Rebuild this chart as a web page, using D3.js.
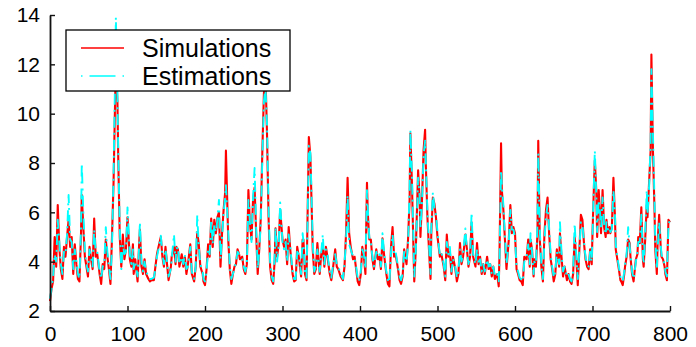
<!DOCTYPE html>
<html>
<head>
<meta charset="utf-8">
<script src="https://cdn.jsdelivr.net/npm/d3@7"></script>
<style>
  body { margin: 0; background: #fff; }
  text { font-family: "Liberation Sans", Arial, sans-serif; fill: #000; }
</style>
</head>
<body>
<div id="chart"></div>
<script>
// sample index (x) and the two series
var steps = [0,2,4,6,8,10,12,14,16,18,20,22,24,26,28,30,32,34,36,38,40,41,43,45,47,49,51,53,55,57,59,61,64,66,68,70,72,74,76,78,80,82,84,85,87,88,90,92,94,96,98,100,103,105,107,108,110,113,115,116,118,120,122,124,127,129,131,134,136,138,140,143,145,147,149,151,153,156,157,160,162,163,165,167,170,172,174,176,178,181,183,186,188,190,192,194,197,198,200,202,204,206,208,210,212,214,216,218,220,222,224,226,227,230,232,234,236,238,240,242,244,245,248,250,252,254,256,258,260,262,264,266,268,270,272,274,276,278,280,282,284,286,288,290,291,293,295,297,300,302,304,306,308,310,313,315,317,319,321,324,326,327,329,331,332,334,336,337,339,341,343,345,348,350,352,354,356,358,361,363,365,368,370,372,375,378,380,382,384,386,388,391,393,395,397,399,401,403,405,407,409,410,412,414,416,418,421,423,425,427,429,431,434,436,438,440,442,444,446,449,451,453,455,457,460,462,464,465,467,469,470,472,475,477,478,480,482,484,485,487,489,491,492,494,496,498,500,501,503,505,508,510,512,514,516,518,520,523,525,527,529,531,533,536,538,540,542,544,546,549,551,553,555,557,559,561,564,566,568,570,572,574,577,579,580,582,583,585,587,589,592,594,596,598,600,602,604,606,608,610,612,615,617,619,620,622,624,625,627,629,630,632,634,636,638,640,642,644,646,648,650,652,654,657,658,660,662,664,667,669,671,673,675,677,679,681,684,685,687,689,691,693,695,697,699,700,702,703,705,706,708,710,711,713,715,717,718,720,722,723,725,727,729,730,732,734,736,737,739,741,742,744,746,748,749,751,753,754,756,758,759,761,763,765,766,768,770,771,773,775,776,778,780,781,783,784,786,788,789,791,793,794,796,798,800];

var simulations = [2.4,2.9,3.2,5.0,3.8,6.3,4.6,3.7,3.3,4.6,4.2,5.0,5.7,4.6,5.0,3.5,4.7,3.9,3.3,3.2,5.1,6.7,5.4,4.2,3.8,3.4,4.6,4.1,3.7,5.75,4.2,4.3,3.5,3.1,3.9,3.7,4.9,4.2,3.7,3.1,5.0,7.2,10.5,11.9,10.5,8.3,5.0,3.8,5.1,4.1,4.5,5.8,4.1,3.8,4.7,3.5,4.1,3.2,4.7,5.3,3.8,3.5,4.1,3.5,3.3,3.2,3.25,3.25,3.8,4.3,4.6,5.0,4.2,3.8,4.6,3.9,3.25,3.8,4.2,4.6,3.9,4.6,4.5,3.8,4.3,3.8,4.2,3.5,3.9,4.7,3.5,3.2,3.8,5.2,4.7,3.8,3.5,3.2,3.05,3.7,4.7,4.2,5.75,4.6,5.7,5.15,5.8,6.0,3.8,5.15,6.1,6.8,8.5,4.9,3.7,3.1,3.5,3.8,3.9,4.5,4.3,4.1,4.2,3.7,3.5,3.9,6.9,5.55,4.9,6.5,7.0,5.15,3.5,4.5,5.8,8.5,10.8,11.6,9.2,5.8,3.8,3.25,3.1,4.1,5.35,4.2,4.7,6.1,4.9,4.6,4.9,3.9,5.4,4.5,3.5,3.2,3.25,4.6,4.2,3.4,4.9,4.9,3.5,3.25,5.15,9.05,8.25,7.0,4.5,3.5,3.7,4.75,3.5,4.3,4.6,3.8,4.6,4.2,3.5,3.25,3.7,4.5,3.8,3.7,3.4,3.25,3.8,5.15,7.4,5.15,4.6,4.1,4.2,3.7,3.2,3.05,3.5,4.6,4.2,3.5,7.2,6.0,4.9,4.9,4.1,3.7,4.5,4.1,4.2,3.7,4.95,4.3,3.5,3.1,3.0,4.6,5.4,4.2,4.3,3.7,3.25,3.1,3.4,4.5,3.9,4.9,6.5,9.2,7.2,4.5,3.2,4.5,7.7,6.5,5.0,6.5,8.5,9.35,7.85,5.8,4.5,3.3,5.15,6.6,6.35,5.8,5.0,4.75,4.2,4.3,3.8,3.25,5.1,4.2,4.4,3.5,4.2,3.7,3.2,3.5,4.75,3.9,4.2,5.1,4.5,3.8,4.2,5.6,4.2,3.8,4.75,3.9,4.2,3.5,3.9,3.5,4.2,3.7,3.9,3.4,3.8,3.3,3.5,3.0,4.3,8.8,6.9,6.1,4.9,3.7,4.9,6.3,5.15,5.4,5.15,3.7,3.5,3.25,3.2,3.05,4.2,4.1,4.9,3.8,4.9,4.5,3.4,4.1,3.8,5.15,8.9,4.9,3.8,3.2,5.15,6.1,6.6,5.15,4.1,3.7,3.2,3.5,4.5,3.8,5.15,4.2,3.4,3.8,3.25,3.5,3.2,3.1,3.5,5.0,4.2,3.05,5.15,5.9,5.7,4.75,4.1,3.8,3.7,4.5,3.9,5.15,7.2,8.1,6.8,5.0,6.9,5.8,5.15,6.9,5.4,5.0,5.7,5.15,5.4,5.15,5.4,7.4,5.8,4.5,4.1,3.7,3.25,3.2,3.05,3.5,3.8,4.2,4.9,4.75,4.2,3.5,3.2,3.5,4.1,4.3,5.0,4.75,6.2,4.1,3.8,4.9,6.3,5.8,7.2,8.5,12.4,8.5,6.1,4.5,3.5,4.75,5.9,4.6,4.2,4.1,3.8,3.5,3.25,5.7,5.6];

var estimations = [2.5,2.9,3.4,4.3,4.0,5.7,4.8,3.9,3.5,4.4,4.3,5.1,6.7,4.9,4.8,3.7,4.5,4.0,3.5,3.3,5.3,8.0,6.0,4.4,3.9,3.6,4.5,4.2,3.8,5.3,4.4,4.4,3.6,3.3,3.8,3.9,5.4,4.4,3.8,3.3,4.6,7.5,11.5,13.9,10.8,8.6,5.4,3.7,4.7,4.3,4.4,6.2,4.3,3.9,4.5,3.7,4.0,3.4,4.6,5.6,4.0,3.6,4.0,3.6,3.4,3.3,3.3,3.35,3.7,4.2,4.5,5.05,4.3,3.9,4.5,4.0,3.4,3.7,4.1,5.1,4.0,4.5,4.6,3.9,4.2,3.9,4.3,3.7,3.8,4.6,3.6,3.3,3.8,5.9,4.6,3.9,3.6,3.3,3.2,3.6,4.5,4.3,5.7,4.7,5.5,5.2,5.7,6.5,4.1,5.0,6.0,6.6,7.1,5.2,3.8,3.3,3.5,3.7,4.0,4.4,4.3,4.2,4.1,3.8,3.6,3.9,6.5,5.6,4.8,6.6,7.8,5.4,3.7,4.4,5.6,8.2,10.5,11.1,9.6,6.2,4.0,3.4,3.2,4.3,5.4,4.0,4.6,6.4,4.8,4.5,4.8,4.0,5.1,4.6,3.6,3.3,3.3,4.4,4.3,3.5,5.15,4.8,3.6,3.35,5.0,8.7,8.4,7.3,4.8,3.6,3.8,4.5,3.6,4.4,5.1,3.9,4.5,4.3,3.6,3.35,3.8,4.3,3.9,3.8,3.5,3.3,3.9,4.9,6.7,4.7,4.5,4.2,4.1,3.8,3.35,3.2,3.6,4.5,4.3,3.7,6.9,6.2,5.0,4.8,4.2,3.8,4.4,4.2,4.3,3.8,5.15,4.4,3.6,3.25,3.15,4.4,5.1,4.3,4.4,3.8,3.4,3.25,3.5,4.4,4.0,4.7,7.0,9.35,7.6,4.8,3.4,4.4,7.4,6.6,5.3,6.4,8.3,8.9,8.0,6.0,4.7,3.5,5.4,6.8,6.2,5.9,5.2,4.8,4.3,4.4,3.9,3.4,4.8,4.3,4.6,3.6,4.1,3.8,3.35,3.6,4.5,4.0,4.3,5.35,4.4,3.9,4.2,6.0,4.3,3.9,4.5,4.0,4.1,3.6,3.9,3.6,4.1,3.8,3.9,3.5,3.8,3.4,3.5,3.2,4.0,7.7,7.1,6.3,5.0,3.9,4.8,6.1,5.3,5.3,5.0,3.8,3.6,3.35,3.3,3.2,4.0,4.2,4.7,3.9,5.15,4.4,3.5,4.0,3.9,5.5,8.4,5.3,3.9,3.3,4.9,5.8,6.3,5.4,4.3,3.8,3.35,3.6,4.4,3.9,5.6,4.4,3.6,3.8,3.4,3.5,3.3,3.2,3.6,5.55,4.3,3.3,5.0,5.6,5.5,4.8,4.2,3.9,3.8,4.4,4.0,5.0,7.4,8.5,6.6,5.2,6.5,5.9,5.3,6.6,5.5,5.1,5.6,5.3,5.4,5.2,5.3,6.9,6.0,4.7,4.2,3.8,3.4,3.3,3.2,3.6,3.9,4.3,5.4,4.6,4.3,3.6,3.3,3.5,4.0,4.4,4.8,4.8,5.9,4.3,3.9,5.1,6.9,5.9,7.0,8.8,11.8,9.2,6.5,4.8,3.7,4.5,5.6,4.7,4.3,4.1,3.9,3.6,3.4,5.5,5.7];

var xTicks = [0, 100, 200, 300, 400, 500, 600, 700, 800];
var yTicks = [2, 4, 6, 8, 10, 12, 14];
var seriesNames = ["Simulations", "Estimations"];
var seriesColors = ["#ff0000", "#00ffff"];

var width = 696, height = 347;

var svg = d3.select("#chart").append("svg")
  .attr("width", width)
  .attr("height", height);

var x = d3.scaleLinear().domain([0, 800]).range([50, 670]);
var y = d3.scaleLinear().domain([2, 14]).range([311, 15]);

var line = d3.line()
  .x(function(d) { return x(d[0]); })
  .y(function(d) { return y(d[1]); });

var simData = steps.map(function(s, i) { return [s, simulations[i]]; });
var estData = steps.map(function(s, i) { return [s, estimations[i]]; });

svg.append("path")
  .datum(simData)
  .attr("d", line)
  .attr("fill", "none")
  .attr("stroke", seriesColors[0])
  .attr("stroke-width", 2.1)
  .attr("stroke-linejoin", "round");

svg.append("path")
  .datum(estData)
  .attr("d", line)
  .attr("fill", "none")
  .attr("stroke", seriesColors[1])
  .attr("stroke-width", 1.9)
  .attr("stroke-dasharray", "11,5,2,5")
  .attr("stroke-linejoin", "round");

// axes, ticks pointing inwards
var xAxis = svg.append("g")
  .attr("transform", "translate(0," + 311 + ")")
  .call(d3.axisBottom(x).tickValues(xTicks).tickSizeInner(-5).tickSizeOuter(0).tickPadding(15));

var yAxis = svg.append("g")
  .attr("transform", "translate(" + 50 + ",0)")
  .call(d3.axisLeft(y).tickValues(yTicks).tickSizeInner(-5).tickSizeOuter(0).tickPadding(10));

[xAxis, yAxis].forEach(function(g) {
  g.select(".domain").attr("stroke", "#111").attr("stroke-width", 1.8);
  g.selectAll(".tick line").attr("stroke", "#111").attr("stroke-width", 1.4);
  g.selectAll(".tick text")
    .style("font-family", '"Liberation Sans", Arial, sans-serif')
    .style("font-size", "21px")
    .attr("fill", "#000");
});

// legend
var legend = svg.append("g");
legend.append("rect")
  .attr("x", 66).attr("y", 30)
  .attr("width", 224).attr("height", 61)
  .attr("fill", "#fff")
  .attr("stroke", "#000")
  .attr("stroke-width", 1.3);

seriesNames.forEach(function(name, i) {
  var ly = 48 + i * 28;
  var l = legend.append("line")
    .attr("x1", 81).attr("x2", 124)
    .attr("y1", ly).attr("y2", ly)
    .attr("stroke", seriesColors[i])
    .attr("stroke-width", 1.6);
  if (i === 1) l.attr("stroke-dasharray", "1.5,7,26,7");
  legend.append("text")
    .attr("x", 142).attr("y", ly)
    .attr("dy", "0.36em")
    .style("font-size", "25px")
    .text(name);
});
</script>
</body>
</html>
